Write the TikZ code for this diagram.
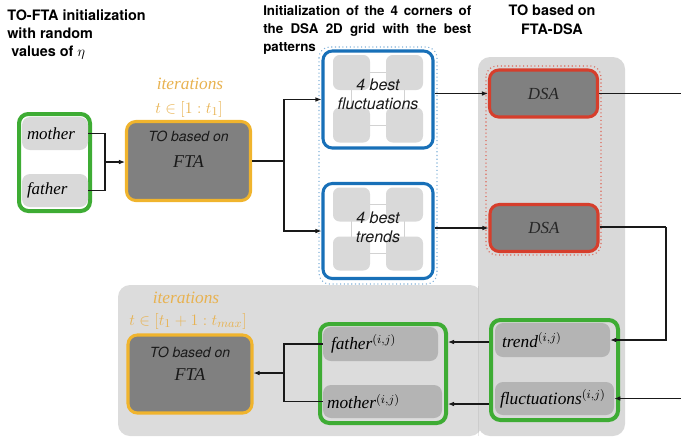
\documentclass[tikz,border=0pt]{standalone}
\usepackage{fontspec}
\setmainfont{Liberation Serif}
\newfontfamily\hv{TeX Gyre Heros}
\usetikzlibrary{arrows.meta}
\definecolor{gbord}{RGB}{62,172,52}
\definecolor{obord}{RGB}{240,180,45}
\definecolor{otext}{RGB}{232,178,80}
\definecolor{bbord}{RGB}{24,112,184}
\definecolor{rbord}{RGB}{214,62,44}
\definecolor{lgray}{RGB}{217,217,217}
\definecolor{mgray}{RGB}{180,180,180}
\definecolor{fgray}{RGB}{128,128,128}
\definecolor{pgray}{RGB}{217,217,217}
\definecolor{pgrayb}{RGB}{220,220,220}
\begin{document}
\begin{tikzpicture}[x=0.75pt,y=-0.75pt,
  box/.style={rounded corners=7pt, inner sep=0pt},
  greenbox/.style={box, draw=gbord, line width=3pt},
  ltbox/.style={box, rounded corners=6pt, fill=lgray, font=\fontsize{12.7}{14}\selectfont\itshape, align=left},
  dkbox/.style={box, rounded corners=6pt, fill=mgray, font=\fontsize{13}{14}\selectfont\itshape, align=left},
  ftabox/.style={box, draw=obord, line width=2.3pt, fill=fgray},
  dsabox/.style={box, draw=rbord, line width=2.3pt, fill=fgray, font=\fontsize{12.7}{14}\selectfont\itshape, text=black!85},
  bluebox/.style={box, draw=bbord, line width=2.3pt, fill=white},
  sq/.style={rounded corners=5pt, fill=lgray, inner sep=0pt, minimum width={37*0.75pt}},
  arr/.style={-{Latex[length=4.5pt,width=3.5pt]}, line width=0.8pt, black!90},
  ln/.style={line width=0.8pt, black!90},
  hd/.style={font=\hv\bfseries\fontsize{10.8}{13.8}\selectfont, inner sep=0pt},
  sit/.style={font=\hv\itshape\fontsize{10.5}{12}\selectfont, inner sep=0pt, text=black!90},
  bsit/.style={font=\hv\itshape\fontsize{12}{14}\selectfont, inner sep=0pt, align=center, text=black!90},
  sif/.style={font=\fontsize{12.7}{14}\selectfont\itshape, inner sep=0pt, text=black!90},
  orng/.style={text=otext, inner sep=0pt, font=\fontsize{13}{15}\selectfont}
]
\useasboundingbox (0,0) rectangle (681,437);

% headings
\node[hd, anchor=north west, align=left] (h1) at (7,9) {TO-FTA initialization\\with random\\\hspace{3pt}values of $\eta$};
\node[hd, font=\hv\bfseries\fontsize{10}{13.6}\selectfont, anchor=north west, align=justify, text width=156pt] (h2) at (263,5) {Initialization of the 4 corners of\linebreak the DSA 2D grid with the best\linebreak patterns};
\node[hd, anchor=north, align=center] (h3) at (552,5) {TO based on\\FTA-DSA};

% background panels
\fill[pgrayb, rounded corners=9pt] (118,285) rectangle (482,436);
\fill[pgray, rounded corners=9pt] (478,57) rectangle (625,436);
\draw[pgray!80!black, line width=0.3pt, opacity=0.3] (478,286) -- (478,436);

% dotted frames
\draw[bbord!55, dotted, line width=0.8pt, rounded corners=8pt] (319,47) rectangle (437,284);
\draw[rbord!80, dotted, line width=0.8pt, rounded corners=8pt] (486,66) rectangle (601,255);

% left green group
\node[greenbox, minimum width={71*0.75pt}, minimum height={97*0.75pt}] (gL) at (54.5,162.5) {};
\node[ltbox, minimum width={66*0.75pt}, minimum height={33*0.75pt}, text width={56*0.75pt}] (mother) at (55,133.5) {mother};
\node[ltbox, minimum width={66*0.75pt}, minimum height={33*0.75pt}, text width={56*0.75pt}] (father) at (55,190.5) {father};

% FTA top
\node[orng] (it1) at (190,84) {\itshape iterations};
\node[orng] (tr1) at (189,109) {$t\in[1:t_1]$};
\node[ftabox, minimum width={124*0.75pt}, minimum height={79*0.75pt}] (fta1) at (188.5,161) {};
\node[sit] (fta1a) at (188.5,136) {TO based on};
\node[sif, font=\fontsize{13.5}{15}\selectfont\itshape] (fta1b) at (188.5,162) {FTA};

% blue boxes
\node[bluebox, minimum width={110*0.75pt}, minimum height={97*0.75pt}] (blueT) at (378,99.5) {};
\node[bluebox, minimum width={110*0.75pt}, minimum height={95*0.75pt}] (blueB) at (378,231) {};
\draw[gray!35, line width=0.6pt] (351.5,72.5) rectangle (404.5,125);
\draw[gray!35, line width=0.6pt] (351.5,204.5) rectangle (404.5,253.5);
\node[sq, minimum height={35*0.75pt}] (s1) at (351.5,72.5) {};
\node[sq, minimum height={35*0.75pt}] (s2) at (404.5,72.5) {};
\node[sq, minimum height={35*0.75pt}] (s3) at (351.5,125) {};
\node[sq, minimum height={35*0.75pt}] (s4) at (404.5,125) {};
\node[sq, minimum height={34*0.75pt}] (s5) at (351.5,204.5) {};
\node[sq, minimum height={34*0.75pt}] (s6) at (404.5,204.5) {};
\node[sq, minimum height={34*0.75pt}] (s7) at (351.5,253.5) {};
\node[sq, minimum height={34*0.75pt}] (s8) at (404.5,253.5) {};
\node[bsit] (bt1) at (378,94) {4 best\\fluctuations};
\node[bsit] (bt2) at (378,227) {4 best\\trends};

% DSA boxes
\node[dsabox, minimum width={108*0.75pt}, minimum height={47*0.75pt}] (DSA1) at (543.5,93.5) {DSA};
\node[dsabox, minimum width={108*0.75pt}, minimum height={47*0.75pt}] (DSA2) at (544,228) {DSA};

% right green group
\node[greenbox, minimum width={127*0.75pt}, minimum height={100*0.75pt}] (gR) at (554.5,370) {};
\node[dkbox, minimum width={115*0.75pt}, minimum height={34*0.75pt}, text width={101*0.75pt}] (trend) at (552.5,340) {trend$^{(i,j)}$};
\node[dkbox, minimum width={119*0.75pt}, minimum height={33*0.75pt}, text width={109*0.75pt}] (fluct) at (554.5,398.5) {fluctuations$^{(i,j)}$};

% bottom-left green group
\node[greenbox, minimum width={126*0.75pt}, minimum height={99*0.75pt}] (gLB) at (383,373.5) {};
\node[dkbox, minimum width={115*0.75pt}, minimum height={34*0.75pt}, text width={99*0.75pt}] (father2) at (380.5,344) {father$^{(i,j)}$};
\node[dkbox, minimum width={119*0.75pt}, minimum height={33*0.75pt}, text width={111*0.75pt}] (mother2) at (382.5,401.5) {mother$^{(i,j)}$};

% FTA bottom
\node[orng] (it2) at (186,298) {\itshape iterations};
\node[orng] (tr2) at (188,321) {$t\in[t_1+1:t_{max}]$};
\node[ftabox, minimum width={124*0.75pt}, minimum height={78*0.75pt}] (fta2) at (190,374) {};
\node[sit] (fta2a) at (190,352) {TO based on};
\node[sif, font=\fontsize{13.5}{15}\selectfont\itshape] (fta2b) at (190,375) {FTA};

% connectors
\coordinate (j1) at (105,162);
\draw[ln] (mother.east) -| (j1);
\draw[ln] (father.east) -| (j1);
\draw[arr] (j1) -- (fta1.west |- j1);

\coordinate (j2) at (284,161);
\draw[ln] (fta1.east |- j2) -- (j2);
\draw[arr] (j2) |- (blueT.west);
\draw[arr] (j2) |- (blueB.west);

\draw[arr] (blueT.east |- DSA1.west) -- (DSA1.west);
\draw[arr] (blueB.east |- DSA2.west) -- (DSA2.west);

\coordinate (o1) at (681,93.5);
\draw[ln] (DSA1.east) -- (o1);

\coordinate (j3) at (666,227);
\draw[ln] (DSA2.east |- j3) -- (j3);
\draw[arr] (j3) |- (trend.east);

\coordinate (i1) at (681,398.5);
\draw[arr] (i1) -- (fluct.east);

\draw[arr] (gR.west |- 0,342) -- (gLB.east |- 0,342);
\draw[arr] (gR.west |- 0,404) -- (gLB.east |- 0,404);

\coordinate (j4) at (284,373);
\draw[ln] (father2.west) -| (j4);
\draw[ln] (mother2.west) -| (j4);
\draw[arr] (j4) -- (fta2.east |- j4);
\end{tikzpicture}
\end{document}
